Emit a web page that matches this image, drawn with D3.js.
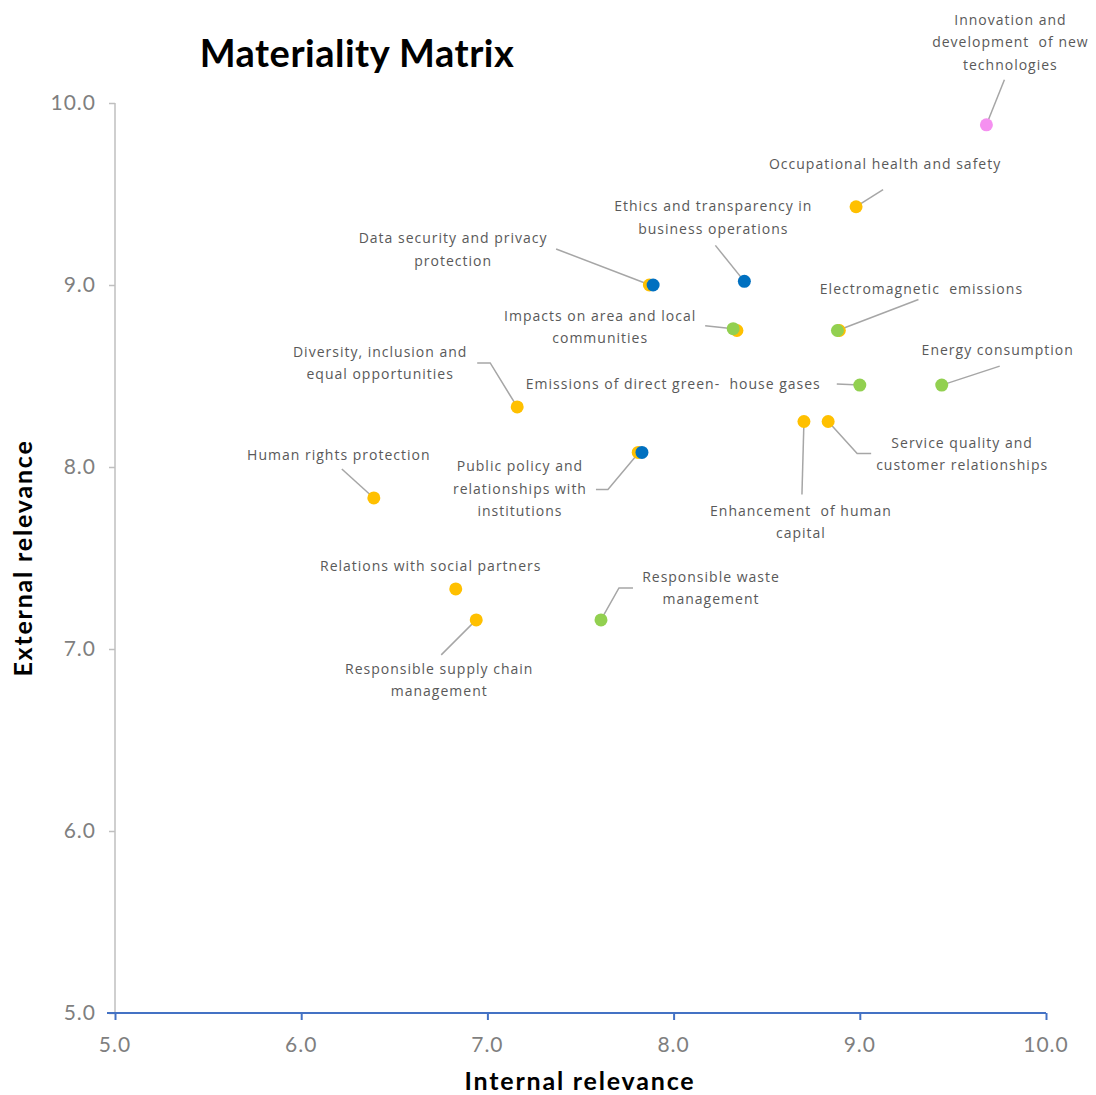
<!DOCTYPE html>
<html>
<head>
<meta charset="utf-8">
<script src="https://cdn.jsdelivr.net/npm/d3@7"></script>
<style>
  body { margin: 0; background: #fff; }
  .tick-label { font-family: Lato, "Open Sans", sans-serif; font-size: 21px; letter-spacing: 1px; fill: #7f7f7f; }
  .topic-label { font-family: "Open Sans", sans-serif; font-size: 14px; letter-spacing: 1px; fill: #595959; white-space: pre; }
  .axis-title { font-family: Lato, sans-serif; font-weight: bold; font-size: 25px; letter-spacing: 1.8px; fill: #000; }
  .chart-title { font-family: Lato, sans-serif; font-weight: bold; font-size: 38px; letter-spacing: 0.5px; fill: #000; }
</style>
</head>
<body>
<script>
(function(){

//topics and their scores
var topics = [
    "Innovation and\ndevelopment  of new\ntechnologies",
    "Occupational health and safety",
    "Ethics and transparency in\nbusiness operations",
    "Data security and privacy\nprotection",
    "Impacts on area and local\ncommunities",
    "Electromagnetic  emissions",
    "Energy consumption",
    "Emissions of direct green-  house gases",
    "Diversity, inclusion and\nequal opportunities",
    "Service quality and\ncustomer relationships",
    "Enhancement  of human\ncapital",
    "Public policy and\nrelationships with\ninstitutions",
    "Human rights protection",
    "Relations with social partners",
    "Responsible supply chain\nmanagement",
    "Responsible waste\nmanagement"
];
var internalScore = [9.68, 8.98, 8.38, 7.89, 8.32, 8.88, 9.44, 9.00, 7.16, 8.83, 8.70, 7.83, 6.39, 6.83, 6.94, 7.61];
var externalScore = [9.88, 9.43, 9.02, 9.00, 8.76, 8.75, 8.45, 8.45, 8.33, 8.25, 8.25, 8.08, 7.83, 7.33, 7.16, 7.16];
var topicGroup = ["innovation", "people", "governance", "governance", "environment", "environment", "environment", "environment",
                  "people", "people", "people", "governance", "people", "people", "people", "environment"];

//second (social) dot drawn behind some topics
var underInternal = [7.87, 8.34, 8.89, 7.81];
var underExternal = [9.00, 8.75, 8.75, 8.08];

//axis ticks
var tickValues = [5, 6, 7, 8, 9, 10];

var groupColor = {
    people: "#FFC000",
    governance: "#0070C0",
    environment: "#92D050",
    innovation: "#F590F0"
};

//label placement relative to dot: text anchor, first line offset, leader points
var labelLayout = [
    {dx: 24, dy: -105, anchor: "middle", leader: [[18, -45], [0, 0]]},
    {dx: 29, dy: -43, anchor: "middle", leader: [[27, -17], [0, 0]]},
    {dx: -31, dy: -75, anchor: "middle", leader: [[-29, -36], [0, 0]]},
    {dx: -200, dy: -47, anchor: "middle", leader: [[-97, -36], [-3, 0]]},
    {dx: -133, dy: -13, anchor: "middle", leader: [[-28, -3], [0, 0]]},
    {dx: 84, dy: -42, anchor: "middle", leader: [[81, -31], [0, 0]]},
    {dx: 56, dy: -35, anchor: "middle", leader: [[58, -19], [0, 0]]},
    {dx: -39, dy: -1, anchor: "end", leader: [[-23, -1], [0, 0]]},
    {dx: -137, dy: -55, anchor: "middle", leader: [[-40, -44], [-27, -44], [0, 0]]},
    {dx: 134, dy: 21, anchor: "middle", leader: [[43, 32], [29, 32], [0, 0]]},
    {dx: -3, dy: 89, anchor: "middle", leader: [[-2, 73], [0, 0]]},
    {dx: -122, dy: 14, anchor: "middle", leader: [[-46, 37], [-34, 37], [-3, 0]]},
    {dx: -35, dy: -43, anchor: "middle", leader: [[-32, -29], [0, 0]]},
    {dx: -25, dy: -23, anchor: "middle", leader: null},
    {dx: -37, dy: 49, anchor: "middle", leader: [[-35, 35], [0, 0]]},
    {dx: 110, dy: -43, anchor: "middle", leader: [[32, -32], [18, -32], [0, 0]]}
];

var width = 1096,
    height = 1095,
    left = 115,
    right = 1046,
    top = 103,
    bottom = 1013,
    lineHeight = 22.5,
    dotRadius = 6.5;

var svg = d3.select("body")
    .append("svg")
    .attr("width", width)
    .attr("height", height);

var x = d3.scaleLinear().domain([5, 10]).range([left, right]);
var y = d3.scaleLinear().domain([5, 10]).range([bottom, top]);

//y axis (grey)
var yAxis = svg.append("g")
    .attr("transform", "translate(" + left + ",0)")
    .call(d3.axisLeft(y).tickValues(tickValues).tickSize(6).tickFormat(""));
yAxis.select(".domain").attr("stroke", "#bfbfbf").attr("stroke-width", 1.5).attr("d", "M0," + top + "V" + bottom);
yAxis.selectAll(".tick line").attr("stroke", "#bfbfbf").attr("stroke-width", 1.5);

svg.selectAll(".ylab")
    .data(tickValues)
    .enter()
    .append("text")
    .attr("class", "tick-label")
    .attr("text-anchor", "end")
    .attr("x", left - 19)
    .attr("y", function(d){ return y(d) + 7; })
    .text(function(d){ return d.toFixed(1); });

//x axis (blue)
var xAxis = svg.append("g")
    .attr("transform", "translate(0," + bottom + ")")
    .call(d3.axisBottom(x).tickValues(tickValues).tickSize(7).tickFormat(""));
xAxis.select(".domain").attr("stroke", "#4472C4").attr("stroke-width", 2).attr("d", "M" + (left - 8) + ",0H" + right);
xAxis.selectAll(".tick line").attr("stroke", "#4472C4").attr("stroke-width", 2);

svg.selectAll(".xlab")
    .data(tickValues)
    .enter()
    .append("text")
    .attr("class", "tick-label")
    .attr("text-anchor", "middle")
    .attr("x", function(d){ return x(d); })
    .attr("y", bottom + 39)
    .text(function(d){ return d.toFixed(1); });

//titles
svg.append("text")
    .attr("class", "chart-title")
    .attr("text-anchor", "middle")
    .attr("x", 357)
    .attr("y", 67)
    .text("Materiality Matrix");

svg.append("text")
    .attr("class", "axis-title")
    .attr("text-anchor", "middle")
    .attr("x", 580)
    .attr("y", 1090)
    .text("Internal relevance");

svg.append("text")
    .attr("class", "axis-title")
    .attr("text-anchor", "middle")
    .attr("transform", "translate(32,558) rotate(-90)")
    .text("External relevance");

var idx = d3.range(topics.length);

//leader lines
var line = d3.line();
svg.selectAll(".leader")
    .data(idx.filter(function(i){ return labelLayout[i].leader; }))
    .enter()
    .append("path")
    .attr("class", "leader")
    .attr("fill", "none")
    .attr("stroke", "#a6a6a6")
    .attr("stroke-width", 1.5)
    .attr("d", function(i){
        var px = x(internalScore[i]), py = y(externalScore[i]);
        return line(labelLayout[i].leader.map(function(p){ return [px + p[0], py + p[1]]; }));
    });

//dots behind
svg.selectAll(".under")
    .data(d3.range(underInternal.length))
    .enter()
    .append("circle")
    .attr("class", "under")
    .attr("cx", function(i){ return x(underInternal[i]); })
    .attr("cy", function(i){ return y(underExternal[i]); })
    .attr("r", dotRadius)
    .attr("fill", groupColor.people);

//main dots
svg.selectAll(".dot")
    .data(idx)
    .enter()
    .append("circle")
    .attr("class", "dot")
    .attr("cx", function(i){ return x(internalScore[i]); })
    .attr("cy", function(i){ return y(externalScore[i]); })
    .attr("r", dotRadius)
    .attr("fill", function(i){ return groupColor[topicGroup[i]]; });

//labels
svg.selectAll(".topic-label")
    .data(idx)
    .enter()
    .append("text")
    .attr("class", "topic-label")
    .attr("text-anchor", function(i){ return labelLayout[i].anchor; })
    .each(function(i){
        var t = d3.select(this),
            px = x(internalScore[i]) + labelLayout[i].dx,
            py = y(externalScore[i]) + labelLayout[i].dy;
        topics[i].split("\n").forEach(function(s, k){
            t.append("tspan")
                .attr("x", px)
                .attr("y", py + k * lineHeight + 5)
                .text(s);
        });
    });

})();
</script>
</body>
</html>
